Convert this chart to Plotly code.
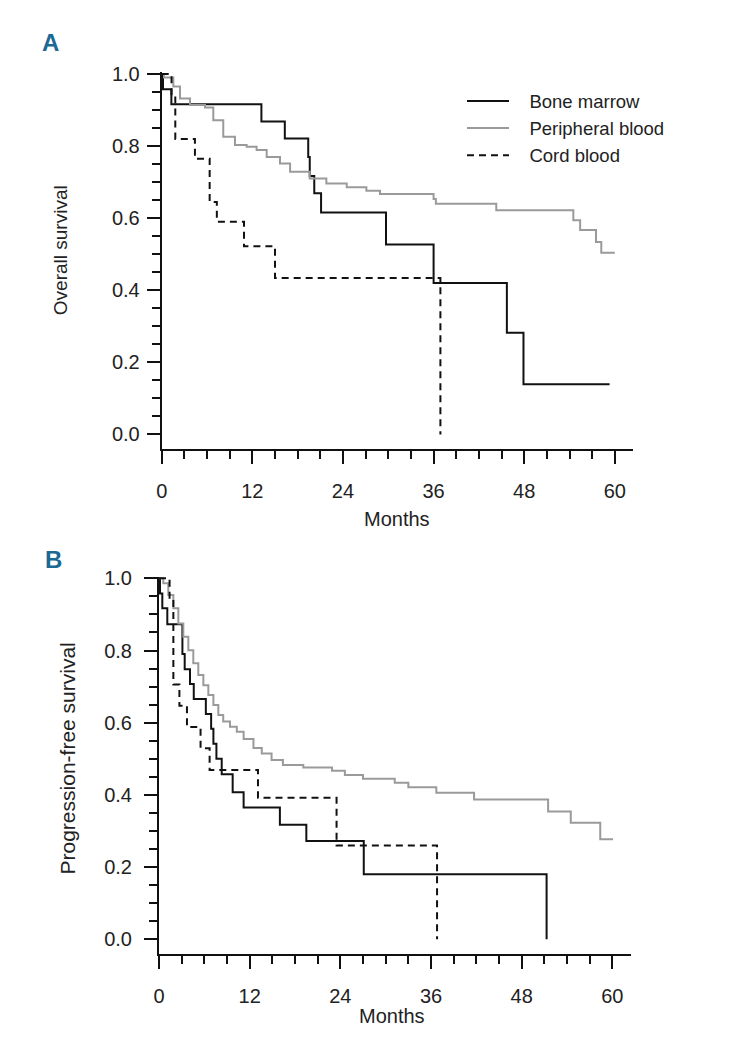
import plotly.graph_objects as go

# ---------------- data (months, survival probability) ----------------
# Panel A: overall survival
os_bm_t = [0, 0.17, 1.28, 13.2, 16.3, 19.4, 19.6, 20.2, 21.1, 29.7, 36.0, 45.7, 47.9, 59.3]
os_bm_s = [1.0, 0.958, 0.916, 0.868, 0.821, 0.77, 0.717, 0.669, 0.616, 0.527, 0.42, 0.282, 0.139, 0.139]

os_pb_t = [0, 0.3, 1.54, 2.42, 3.75, 5.73, 6.83, 8.15, 9.7, 11.25, 12.57, 13.9, 15.66, 17.0,
           19.6, 21.8, 24.5, 27.1, 28.9, 36.0, 36.3, 44.3, 54.5, 55.4, 57.5, 58.2, 60.0]
os_pb_s = [1.0, 0.99, 0.965, 0.932, 0.914, 0.907, 0.872, 0.826, 0.803, 0.798, 0.789, 0.770, 0.752, 0.729,
           0.710, 0.696, 0.686, 0.676, 0.667, 0.653, 0.640, 0.622, 0.594, 0.567, 0.534, 0.504, 0.504]

os_cb_t = [0, 1.3, 1.8, 4.4, 6.35, 7.3, 10.9, 15.0, 36.9]
os_cb_s = [1.0, 0.94, 0.82, 0.765, 0.645, 0.59, 0.522, 0.434, 0.0]

# Panel B: progression-free survival
pfs_bm_t = [0, 0.13, 0.44, 1.1, 3.1, 3.4, 4.1, 4.6, 6.2, 6.9, 7.2, 7.6, 8.3, 9.75, 11.2, 16.0, 19.5, 27.1, 51.3]
pfs_bm_s = [1.0, 0.958, 0.917, 0.873, 0.79, 0.748, 0.707, 0.666, 0.624, 0.583, 0.542, 0.50, 0.457, 0.407,
            0.365, 0.317, 0.272, 0.18, 0.0]

pfs_pb_t = [0, 0.57, 1.23, 1.9, 2.56, 3.22, 3.88, 4.54, 5.2, 5.87, 6.53, 7.2, 7.85, 8.5, 9.4, 10.3, 11.2,
            12.5, 13.6, 14.9, 16.4, 19.1, 22.9, 24.6, 27.0, 31.2, 33.0, 36.7, 41.7, 51.5, 54.5, 58.4, 60.1]
pfs_pb_s = [1.0, 0.986, 0.954, 0.917, 0.875, 0.838, 0.801, 0.765, 0.732, 0.704, 0.677, 0.649, 0.621, 0.603,
            0.589, 0.575, 0.555, 0.530, 0.515, 0.497, 0.483, 0.476, 0.467, 0.455, 0.445, 0.434, 0.421,
            0.406, 0.387, 0.354, 0.323, 0.277, 0.277]

pfs_cb_t = [0, 1.4, 1.9, 2.7, 3.7, 5.5, 6.7, 13.1, 23.5, 36.8]
pfs_cb_s = [1.0, 0.941, 0.706, 0.647, 0.588, 0.529, 0.469, 0.392, 0.26, 0.0]

series_names = ["Bone marrow", "Peripheral blood", "Cord blood"]
x_ticks = [0, 12, 24, 36, 48, 60]
y_ticks = [0.0, 0.2, 0.4, 0.6, 0.8, 1.0]

# ---------------- styling ----------------
FONT = "Liberation Sans, Arial, Helvetica, sans-serif"
OFF = 8                      # default page body margin
W, H = 743 - 2 * OFF, 1042 - 2 * OFF
BLACK = "#111111"
TXT = "#222222"
GRAY = "#9a9a9a"
styles = [dict(color=BLACK, width=2, dash="solid"),
          dict(color=GRAY, width=2, dash="solid"),
          dict(color=BLACK, width=2, dash="7px,5px")]

fig = go.Figure()

panels = [
    ("x", "y", [(os_bm_t, os_bm_s), (os_pb_t, os_pb_s), (os_cb_t, os_cb_s)], True),
    ("x2", "y2", [(pfs_bm_t, pfs_bm_s), (pfs_pb_t, pfs_pb_s), (pfs_cb_t, pfs_cb_s)], False),
]
NB = "\u00a0" * 3
for xa, ya, data, show in panels:
    for (t, s), name, st in zip(data, series_names, styles):
        fig.add_trace(go.Scatter(x=t, y=s, mode="lines", line_shape="hv", name=NB + name,
                                 line=st, showlegend=show, xaxis=xa, yaxis=ya,
                                 hoverinfo="skip"))

def px_x(p):
    return (p - OFF) / W

def px_y(p):
    return 1 - (p - OFF) / H

axis_common = dict(showline=True, linecolor=BLACK, linewidth=2, ticks="outside",
                   tickcolor=BLACK, tickwidth=2, ticklen=13, showgrid=False, zeroline=False,
                   automargin=False,
                   tickfont=dict(family=FONT, size=20, color=TXT))
minor_x = dict(dtick=3, tick0=0, ticks="outside", ticklen=8, tickwidth=2, tickcolor=BLACK, showgrid=False)
minor_y = dict(dtick=0.05, tick0=0, ticks="outside", ticklen=8, tickwidth=2, tickcolor=BLACK, showgrid=False)

fig.update_layout(
    template="none",
    width=W, height=H, margin=dict(l=0, r=0, t=0, b=0, pad=0, autoexpand=False),
    paper_bgcolor="white", plot_bgcolor="white",
    font=dict(family=FONT, size=20, color=TXT),
    xaxis=dict(domain=[px_x(161.7), px_x(633)], range=[0, 62.4], anchor="y",
               tickvals=x_ticks, ticklabelstandoff=10, minor=minor_x, **axis_common),
    yaxis=dict(domain=[px_y(448.9), px_y(72.2)], range=[-0.04, 1.005], anchor="x",
               tickvals=y_ticks, tickformat=".1f", ticklabelstandoff=3, minor=minor_y, **axis_common),
    xaxis2=dict(domain=[px_x(159), px_x(631)], range=[0, 62.47], anchor="y2",
                tickvals=x_ticks, ticklabelstandoff=10, minor=minor_x, **axis_common),
    yaxis2=dict(domain=[px_y(954.1), px_y(576.5)], range=[-0.041, 1.005], anchor="x2",
                tickvals=y_ticks, tickformat=".1f", ticklabelstandoff=8, minor=minor_y, **axis_common),
    legend=dict(x=px_x(462), y=px_y(82.5), xanchor="left", yanchor="top",
                bgcolor="rgba(0,0,0,0)", font=dict(family=FONT, size=18.5, color=TXT),
                itemwidth=42, tracegroupgap=0),
)

ann_font = dict(family=FONT, color=TXT)
annotations = [
    dict(text="<b>A</b>", x=px_x(50.5), y=px_y(42.5), font=dict(family=FONT, size=24, color="#1b6a93")),
    dict(text="<b>B</b>", x=px_x(53), y=px_y(559), font=dict(family=FONT, size=24, color="#1b6a93")),
    dict(text="Overall survival", x=px_x(60.7), y=px_y(250.5), textangle=-90,
         font=dict(size=19, **ann_font)),
    dict(text="Progression-free survival", x=px_x(67), y=px_y(758.5), textangle=-90,
         font=dict(size=21, **ann_font)),
    dict(text="Months", x=px_x(397), y=px_y(519), font=dict(size=20, **ann_font)),
    dict(text="Months", x=px_x(392), y=px_y(1016), font=dict(size=20, **ann_font)),
]
for a in annotations:
    a.update(xref="paper", yref="paper", xanchor="center", yanchor="middle", showarrow=False)
fig.update_layout(annotations=annotations)

fig.write_html("out.html")
